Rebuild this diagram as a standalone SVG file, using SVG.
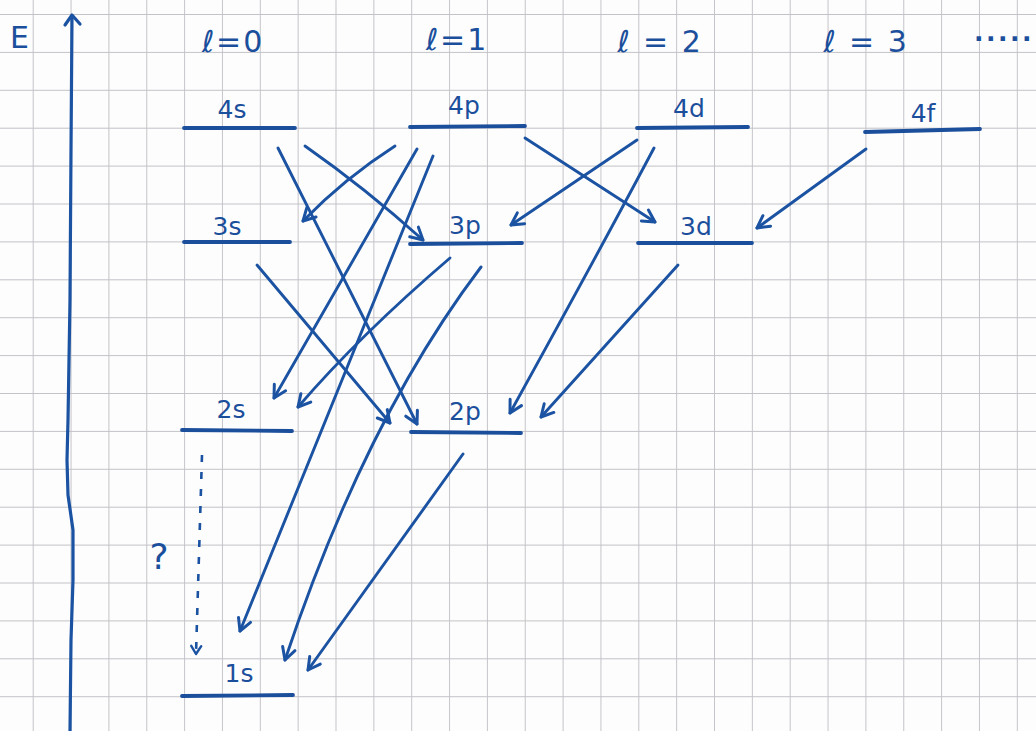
<svg xmlns="http://www.w3.org/2000/svg" width="1036" height="731" viewBox="0 0 1036 731">
<defs>
<pattern id="grid" patternUnits="userSpaceOnUse" x="32.7" y="14" width="37.85" height="37.9">
<path d="M0,0 L37.85,0 M0,0 L0,37.9" fill="none" stroke="#c2c2c8" stroke-width="1.9"/>
</pattern>
<marker id="ah" viewBox="-15 -9 17 18" markerWidth="17" markerHeight="18" refX="0" refY="0" orient="auto" markerUnits="userSpaceOnUse">
<path d="M-12,-6.5 L0,0 L-12,6.5" fill="none" stroke="#1b53a2" stroke-width="3" stroke-linecap="round" stroke-linejoin="round"/>
</marker>
<marker id="ahs" viewBox="-12 -7 14 14" markerWidth="14" markerHeight="14" refX="0" refY="0" orient="auto" markerUnits="userSpaceOnUse">
<path d="M-8,-5 L0,0 L-8,5" fill="none" stroke="#1b53a2" stroke-width="2.4" stroke-linecap="round" stroke-linejoin="round"/>
</marker>
</defs>
<style>
.lvl{stroke:#1b4f9c;stroke-width:3.8;stroke-linecap:round;fill:none}
.lbl{font-family:"DejaVu Sans","Liberation Sans",sans-serif;font-size:25px;fill:#1b4f9c}
.hdr{font-family:"DejaVu Sans","Liberation Sans",sans-serif;font-size:30px;fill:#1b4f9c;letter-spacing:2px}
.arr{stroke:#1b53a2;stroke-width:2.9;fill:none;stroke-linecap:round;marker-end:url(#ah)}
.dash{stroke:#1b53a2;stroke-width:2.6;fill:none;stroke-dasharray:7 10;marker-end:url(#ahs)}
</style>
<rect width="1036" height="731" fill="#fdfdfd"/>
<rect width="1036" height="731" fill="url(#grid)"/>

<g id="axis">
<path d="M72,16 L71,150 L70,300 L68,420 L67,460 L68,495 L73,530 L73,580 L71,640 L70,731" fill="none" stroke="#1b53a2" stroke-width="3.2"/>
<path d="M65,25 L72,15 L80,24" fill="none" stroke="#1b53a2" stroke-width="3.2" stroke-linecap="round" stroke-linejoin="round"/>
<text x="10" y="48" class="hdr">E</text>
</g>

<g id="headers">
<text x="233" y="52" class="hdr" text-anchor="middle">ℓ=0</text>
<text x="457" y="50" class="hdr" text-anchor="middle">ℓ=1</text>
<text x="660" y="52" class="hdr" text-anchor="middle">ℓ = 2</text>
<text x="866" y="52" class="hdr" text-anchor="middle">ℓ = 3</text>
<text x="974" y="41" class="lbl" style="font-weight:bold;letter-spacing:2.5px">.....</text>
</g>

<g id="n4s"><line x1="184" y1="128" x2="295" y2="128" class="lvl"/><text x="232" y="118" class="lbl" text-anchor="middle">4s</text></g>
<g id="n3s"><line x1="184" y1="242" x2="290" y2="242" class="lvl"/><text x="227" y="235" class="lbl" text-anchor="middle">3s</text></g>
<g id="n2s"><line x1="182" y1="430" x2="292" y2="431" class="lvl"/><text x="231" y="418" class="lbl" text-anchor="middle">2s</text></g>
<g id="n1s"><line x1="182" y1="696" x2="293" y2="695" class="lvl"/><text x="239" y="682" class="lbl" text-anchor="middle">1s</text></g>
<g id="n4p"><line x1="410" y1="127" x2="525" y2="126" class="lvl"/><text x="464" y="114" class="lbl" text-anchor="middle">4p</text></g>
<g id="n3p"><line x1="410" y1="244" x2="522" y2="243" class="lvl"/><text x="465" y="234" class="lbl" text-anchor="middle">3p</text></g>
<g id="n2p"><line x1="411" y1="432" x2="521" y2="433" class="lvl"/><text x="465" y="420" class="lbl" text-anchor="middle">2p</text></g>
<g id="n4d"><line x1="637" y1="128" x2="748" y2="127" class="lvl"/><text x="689" y="117" class="lbl" text-anchor="middle">4d</text></g>
<g id="n3d"><line x1="638" y1="243" x2="752" y2="243" class="lvl"/><text x="696" y="235" class="lbl" text-anchor="middle">3d</text></g>
<g id="n4f"><line x1="865" y1="132" x2="980" y2="129" class="lvl"/><text x="923" y="122" class="lbl" text-anchor="middle">4f</text></g>
<g id="q"><text x="159" y="569" class="hdr" text-anchor="middle" style="font-size:36px;letter-spacing:0">?</text></g>

<g id="connectors">
<path class="arr" d="M305,146 Q365,188 423,240"/>
<path class="arr" d="M278,148 L417,424"/>
<path class="arr" d="M257,265 L390,423"/>
<path class="arr" d="M395,146 Q345,178 303,221"/>
<path class="arr" d="M417,149 L274,398"/>
<path class="arr" d="M433,156 L240,631"/>
<path class="arr" d="M525,138 L655,222"/>
<path class="arr" d="M637,140 L511,225"/>
<path class="arr" d="M654,148 Q600,250 510,413"/>
<path class="arr" d="M866,149 L757,228"/>
<path class="arr" d="M450,258 Q360,335 298,407"/>
<path class="arr" d="M481,267 Q365,420 285,660"/>
<path class="arr" d="M678,265 L541,417"/>
<path class="arr" d="M463,454 L308,670"/>
<path class="dash" d="M202,455 L196,654"/>
</g>
</svg>
